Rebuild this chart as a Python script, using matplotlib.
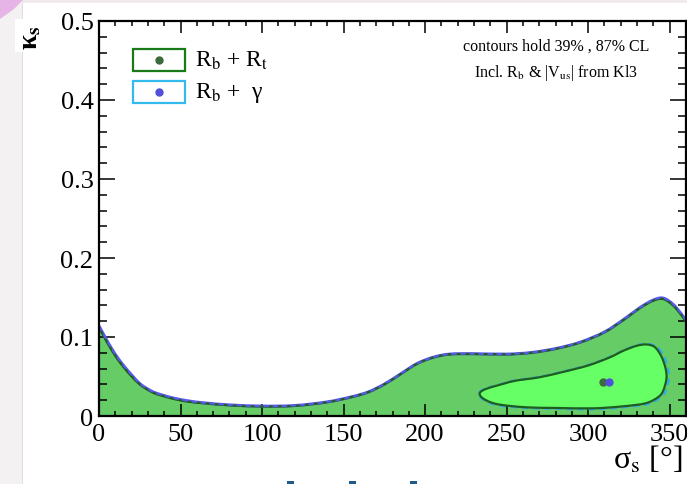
import matplotlib
matplotlib.use("Agg")
import matplotlib.pyplot as plt
from matplotlib.patches import Rectangle, PathPatch, Polygon
from matplotlib.path import Path
import numpy as np

plt.rcParams["font.family"] = ["Liberation Serif", "DejaVu Serif"]
plt.rcParams["mathtext.fontset"] = "stix"

# Outer (39% CL) contour: upper boundary kappa_s vs sigma_s
outer_rt_sigma = [0, 5, 10, 15, 20, 25, 30, 35, 45, 55, 65, 80, 100, 120, 140, 155,
                  165, 175, 185, 195, 205, 215, 230, 250, 265, 280, 295, 310, 322,
                  332, 340, 346, 352, 357, 360]
outer_rt_kappa = [0.112, 0.093, 0.076, 0.062, 0.050, 0.040, 0.033, 0.028, 0.022, 0.018,
                  0.016, 0.0135, 0.012, 0.0128, 0.0175, 0.024, 0.030, 0.040, 0.053,
                  0.066, 0.074, 0.078, 0.0785, 0.078, 0.080, 0.085, 0.093, 0.106, 0.122,
                  0.137, 0.146, 0.148, 0.140, 0.128, 0.119]
outer_g_sigma = [0, 5, 10, 15, 20, 25, 30, 35, 45, 55, 65, 80, 100, 120, 140, 155,
                 165, 175, 185, 195, 205, 215, 230, 250, 265, 280, 295, 310, 322,
                 332, 340, 346, 352, 357, 360]
outer_g_kappa = [0.114, 0.095, 0.078, 0.064, 0.052, 0.041, 0.034, 0.029, 0.023, 0.019,
                 0.0165, 0.014, 0.0125, 0.0132, 0.0178, 0.0243, 0.0303, 0.0403, 0.0533,
                 0.0663, 0.0743, 0.0783, 0.0788, 0.0783, 0.0803, 0.0853, 0.0933, 0.1063,
                 0.1225, 0.1375, 0.1468, 0.1492, 0.1415, 0.1295, 0.1205]

# Inner (87% CL) closed contour
inner_rt_sigma = [233.5, 237, 245, 255, 270, 285, 300, 313, 322, 330, 336, 341, 345,
                  347.5, 348, 346, 343, 335, 320, 303, 280, 262, 247, 240, 235]
inner_rt_kappa = [0.029, 0.034, 0.039, 0.0445, 0.049, 0.056, 0.064, 0.074, 0.083,
                  0.089, 0.0905, 0.087, 0.075, 0.060, 0.047, 0.032, 0.024, 0.016,
                  0.012, 0.0097, 0.0102, 0.011, 0.014, 0.0175, 0.023]
inner_g_sigma = [233.0, 236.5, 245, 255, 270, 285, 300, 313, 322, 330, 336.5, 342,
                 346.5, 349, 349.5, 347.5, 344, 336, 320, 303, 280, 262, 247, 239.5, 234.5]
inner_g_kappa = [0.029, 0.0345, 0.0395, 0.045, 0.0495, 0.0565, 0.0645, 0.0745, 0.0835,
                 0.0897, 0.0912, 0.0878, 0.0755, 0.060, 0.047, 0.031, 0.0228, 0.0148,
                 0.0108, 0.0085, 0.0092, 0.0101, 0.0128, 0.0165, 0.0225]

# Best-fit points
best_rt = (309.4, 0.0426)
best_g = (312.5, 0.0434)

legend_labels = [r"R$_\mathrm{b}$ + R$_\mathrm{t}$", r"R$_\mathrm{b}$ +  γ"]
info_lines = ["contours hold 39% , 87% CL", r"Incl. R$_\mathrm{b}$ & |V$_\mathrm{us}$| from Kl3"]

dark_green = "#1e5e1e"
fill_outer = "#66cc66"
fill_inner = "#66ff66"
blue_line = "#5a5aee"
cyan_line = "#33aaee"


def smooth_path(xs, ys, ax, closed=False, extra=None):
    """Bezier path through the given vertices (Catmull-Rom tangents), built in
    display space so the curve looks round regardless of axis scaling."""
    pts = ax.transData.transform(np.column_stack([xs, ys]))
    n = len(pts)
    if closed:
        P = np.vstack([pts[-1], pts, pts[0], pts[1]])
    else:
        P = np.vstack([pts[0], pts, pts[-1]])
    verts = [pts[0]]
    codes = [Path.MOVETO]
    segs = n if closed else n - 1
    for i in range(segs):
        p0, p1, p2, p3 = P[i], P[i + 1], P[i + 2], P[i + 3]
        c1 = p1 + (p2 - p0) / 6.0
        c2 = p2 - (p3 - p1) / 6.0
        verts += [c1, c2, p2]
        codes += [Path.CURVE4] * 3
    verts = ax.transData.inverted().transform(np.array(verts))
    verts = list(map(tuple, verts))
    if extra:
        for v in extra:
            verts.append(v)
            codes.append(Path.LINETO)
    if closed or extra:
        verts.append(verts[0])
        codes.append(Path.CLOSEPOLY)
    return Path(verts, codes)


W, H = 687, 485
fig = plt.figure(figsize=(W / 100, H / 100), dpi=100)
fig.patch.set_facecolor("white")

# slide margin on the left
fig.patches.append(Rectangle((0, 0), 22 / W, 1, transform=fig.transFigure,
                             facecolor="#f3f1f1", edgecolor="none", zorder=0))
fig.lines.append(plt.Line2D([22 / W, 22 / W], [0, 1], transform=fig.transFigure,
                            color="#dcd8d8", lw=1.2, zorder=0))
fig.patches.append(Polygon([(0, 1), (24 / W, 1), (14 / W, 1 - 10 / H), (0, 1 - 20 / H)],
                           closed=True, transform=fig.transFigure,
                           facecolor="#e6b4e6", edgecolor="none", zorder=0))
fig.lines.append(plt.Line2D([0, 1], [1 - 1.5 / H, 1 - 1.5 / H], transform=fig.transFigure,
                            color="#f1e8ee", lw=2, zorder=0))

ax = fig.add_axes([99 / W, 1 - 417 / H, 587 / W, 395 / H])
ax.set_xlim(0, 360)
ax.set_ylim(0, 0.5)

# Outer region
outer_fill = smooth_path(outer_rt_sigma, outer_rt_kappa, ax, extra=[(360, 0), (0, 0)])
ax.add_patch(PathPatch(outer_fill, facecolor=fill_outer, edgecolor="none", zorder=1))
outer_g = smooth_path(outer_g_sigma, outer_g_kappa, ax)
outer_rt = smooth_path(outer_rt_sigma, outer_rt_kappa, ax)
ax.add_patch(PathPatch(outer_g, facecolor="none", edgecolor=blue_line, lw=2.2, zorder=2))
ax.add_patch(PathPatch(outer_rt, facecolor="none", edgecolor=dark_green, lw=1.6, zorder=3))
ax.add_patch(PathPatch(outer_g, facecolor="none", edgecolor=blue_line, lw=1.3,
                       ls=(0, (3, 2)), zorder=4))

# Inner region
inner_rt = smooth_path(inner_rt_sigma, inner_rt_kappa, ax, closed=True)
inner_g = smooth_path(inner_g_sigma, inner_g_kappa, ax, closed=True)
ax.add_patch(PathPatch(inner_rt, facecolor=fill_inner, edgecolor="none", zorder=5))
ax.add_patch(PathPatch(inner_g, facecolor="none", edgecolor=cyan_line, lw=1.6,
                       ls=(0, (3, 2)), zorder=6))
ax.add_patch(PathPatch(inner_rt, facecolor="none", edgecolor=dark_green, lw=1.6, zorder=7))

ax.plot(*best_rt, "o", color="#3c6a3c", ms=5, zorder=8)
ax.plot(*best_g, "o", color="#5050dd", ms=5, zorder=9)

# Axes styling
ax.set_xticks(np.arange(0, 351, 50))
ax.set_xticks(np.arange(0, 361, 10), minor=True)
ax.set_yticks(np.arange(0, 0.51, 0.1))
ax.set_yticks(np.arange(0, 0.51, 0.02), minor=True)
ax.set_xticklabels([f"{v:d}" for v in range(0, 351, 50)])
ax.set_yticklabels(["0", "0.1", "0.2", "0.3", "0.4", "0.5"])
ax.tick_params(axis="both", which="both", direction="in", top=True, right=True,
               labelsize=19, width=1.1, color="black")
ax.tick_params(axis="x", which="major", length=8.5, pad=5)
ax.tick_params(axis="x", which="minor", length=3.8)
ax.tick_params(axis="y", which="major", length=11.5, pad=4)
ax.tick_params(axis="y", which="minor", length=5.8)
for s in ax.spines.values():
    s.set_linewidth(1.6)
    s.set_zorder(20)

# Axis titles
fig.text(613 / W, 1 - 460 / H, r"σ$_\mathrm{s}$ [°]", fontsize=23, ha="left",
         va="center")
fig.patches.append(Rectangle((15 / W, 1 - 53 / H), 40 / W, 33 / H,
                             transform=fig.transFigure, facecolor="white",
                             edgecolor="none", zorder=1))
fig.text(31 / W, 1 - 38 / H, r"κ$_\mathbf{s}$", fontsize=20, fontweight="bold",
         rotation=90, ha="center", va="center", zorder=2)

# Legend
for i, lab in enumerate(legend_labels):
    y0 = 50 + 32 * i
    col = "#1a7a1a" if i == 0 else "#33bbee"
    dot = "#3c6a3c" if i == 0 else "#5050dd"
    ax.add_patch(Rectangle(((133 - 99) / 1.6306, (417 - y0 - 22) / 790.0),
                           52 / 1.6306, 22 / 790.0, facecolor="white",
                           edgecolor=col, lw=1.6, zorder=15))
    ax.plot((159 - 99) / 1.6306, (417 - y0 - 11) / 790.0, "o", color=dot, ms=5, zorder=16)
    ax.text((195 - 99) / 1.6306, (417 - y0 - 11) / 790.0, lab, fontsize=17,
            ha="left", va="center", zorder=16)

# Info text
ax.text((556 - 99) / 1.6306, (417 - 47) / 790.0, info_lines[0], fontsize=11.5,
        ha="center", va="center", zorder=16)
ax.text((556 - 99) / 1.6306, (417 - 73) / 790.0, info_lines[1], fontsize=11.5,
        ha="center", va="center", zorder=16)

# fragments of the next slide line peeking at the bottom edge
for xp in (290, 352, 413):
    fig.patches.append(Rectangle(((xp - 3) / W, 0), 7 / W, 3 / H,
                                 transform=fig.transFigure, facecolor="#1f5a8a",
                                 edgecolor="none", zorder=0))

fig.savefig("out.png", dpi=100)
